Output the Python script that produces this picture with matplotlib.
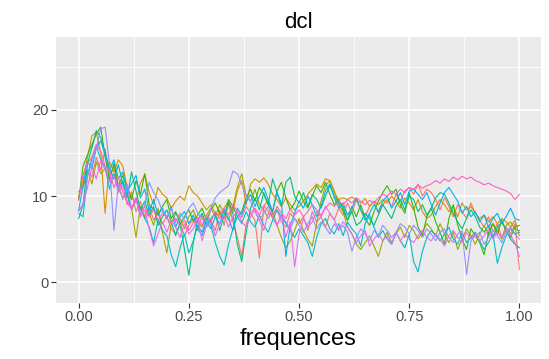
import numpy as np
import matplotlib
matplotlib.use("Agg")
import matplotlib.pyplot as plt

plt.rcParams['font.family'] = ['Liberation Sans', 'DejaVu Sans']

x_start, x_end, n_points = 0.0, 1.0, 101

pink = [9.5, 12.5, 13.8, 14.5, 16.0, 15.2, 13.5, 12.8, 11.0, 12.2,
        10.5, 9.2, 8.5, 9.6, 8.0, 8.8, 7.6, 8.4, 7.2, 8.0,
        7.5, 6.8, 7.4, 6.5, 7.2, 6.0, 6.9, 7.5, 6.6, 7.8,
        7.0, 8.2, 7.4, 8.6, 7.8, 9.0, 8.2, 7.5, 8.8, 8.0,
        8.6, 7.8, 8.9, 8.2, 7.6, 8.8, 8.0, 7.4, 8.5, 7.8,
        8.4, 7.6, 8.2, 9.0, 8.4, 7.8, 8.6, 9.2, 8.8, 9.4,
        9.0, 9.6, 9.2, 9.8, 9.4, 9.0, 9.5, 9.2, 9.8, 10.2,
        10.0, 10.6, 10.2, 10.8, 10.4, 11.0, 10.8, 11.3, 10.9, 11.2,
        11.4, 11.8, 11.5, 12.0, 11.7, 12.2, 11.9, 12.3, 12.0, 12.2,
        11.8, 11.6, 11.3, 11.5, 11.2, 11.0, 10.8, 10.6, 10.3, 9.6,
        10.2]

red = [10.0, 11.5, 13.0, 12.2, 14.5, 13.0, 15.5, 12.0, 13.5, 10.5,
       11.8, 9.0, 10.5, 8.2, 9.4, 7.6, 8.8, 7.2, 8.0, 6.8,
       7.6, 6.2, 5.6, 6.8, 5.4, 6.6, 7.4, 6.0, 7.8, 6.4,
       7.2, 6.0, 8.4, 6.6, 9.2, 7.0, 5.2, 3.0, 6.8, 8.0,
       7.2, 2.8, 8.8, 9.6, 7.8, 8.4, 7.0, 6.4, 8.0, 7.4,
       6.8, 7.6, 6.0, 8.2, 7.0, 7.6, 6.4, 8.0, 7.2, 8.6,
       7.8, 9.2, 8.0, 9.6, 8.4, 7.6, 8.8, 9.4, 8.0, 9.0,
       9.6, 8.8, 10.2, 9.4, 10.6, 11.0, 10.2, 11.4, 10.0, 10.8,
       10.4, 9.6, 8.4, 9.8, 8.8, 7.6, 9.0, 8.2, 7.4, 9.2,
       8.0, 7.2, 6.4, 7.6, 5.8, 6.8, 5.2, 6.4, 5.6, 6.8,
       1.5]

orange = [9.8, 12.0, 14.5, 17.0, 17.4, 15.0, 8.0, 14.0, 12.8, 14.2,
          13.5, 11.0, 10.0, 9.2, 11.5, 12.5, 10.4, 9.0, 11.0, 10.2,
          9.8, 8.6, 9.4, 10.0, 9.5, 11.2, 10.4, 10.0, 9.2, 8.4,
          9.0, 8.0, 7.8, 8.6, 9.4, 8.2, 10.6, 11.8, 9.0, 11.4,
          12.0, 11.6, 12.1, 11.4, 10.2, 9.6, 8.8, 9.8, 9.0, 8.4,
          8.8, 9.4, 10.2, 10.8, 11.4, 11.0, 12.0, 11.8, 10.4, 9.6,
          9.8, 9.6, 9.9, 9.5, 9.2, 9.7, 8.8, 9.4, 9.0, 9.6,
          9.2, 10.0, 9.4, 8.6, 9.8, 9.2, 8.4, 9.6, 8.2, 7.4,
          7.8, 8.8, 9.6, 9.0, 8.2, 8.8, 7.6, 9.2, 8.4, 8.8,
          8.0, 7.4, 7.8, 7.0, 7.6, 6.8, 7.4, 7.0, 6.4, 7.2,
          5.4]

olive = [10.5, 11.0, 13.0, 11.4, 14.0, 12.6, 13.2, 11.8, 12.4, 11.0,
         9.8, 10.4, 8.6, 5.2, 8.8, 7.4, 8.0, 6.6, 8.6, 5.8,
         3.4, 6.8, 8.0, 7.4, 6.2, 7.6, 8.4, 7.0, 6.4, 7.8,
         8.6, 7.6, 9.0, 8.0, 7.2, 8.8, 11.0, 12.6, 10.0, 9.4,
         10.8, 9.0, 8.4, 7.4, 8.2, 6.6, 5.2, 4.0, 4.8, 6.0,
         7.4, 6.0, 5.0, 4.2, 6.8, 9.4, 11.2, 11.8, 10.6, 9.0,
         8.2, 6.4, 5.6, 4.4, 3.8, 4.6, 5.4, 4.2, 3.0, 4.8,
         5.8, 4.6, 5.6, 6.4, 5.2, 6.6, 6.0, 5.0, 5.8, 6.8,
         6.2, 5.4, 6.8, 5.6, 4.6, 5.8, 3.8, 5.0, 6.2, 5.4,
         4.4, 5.6, 6.6, 5.4, 6.8, 6.0, 5.0, 6.6, 7.0, 6.2,
         6.0]

green = [9.6, 13.5, 14.8, 16.0, 17.2, 18.0, 14.5, 12.0, 13.8, 11.2,
         12.4, 10.8, 9.6, 11.8, 10.2, 12.6, 9.0, 8.4, 7.8, 8.8,
         9.6, 7.4, 8.2, 6.8, 7.6, 8.4, 7.0, 7.8, 8.6, 7.2,
         8.4, 9.2, 8.0, 7.4, 9.6, 8.8, 7.6, 8.2, 9.8, 10.8,
         9.4, 11.0, 10.2, 9.0, 8.2, 10.6, 11.6, 9.8, 8.4, 9.2,
         10.6, 9.4, 8.6, 10.0, 11.2, 10.4, 11.6, 10.2, 9.0, 9.6,
         8.4, 7.2, 8.8, 7.6, 9.0, 7.4, 6.6, 8.2, 9.4, 10.4,
         11.2, 10.2, 10.8, 9.0, 8.0, 10.4, 8.6, 6.4, 5.4, 7.6,
         8.6, 7.0, 5.8, 4.4, 7.4, 9.0, 6.6, 5.0, 3.8, 6.2,
         5.4, 4.6, 3.2, 5.8, 6.8, 5.6, 7.2, 6.0, 5.2, 6.4,
         6.6]

teal = [7.4, 9.0, 13.8, 15.6, 17.6, 16.8, 15.0, 13.2, 12.0, 13.6,
        11.4, 9.8, 12.8, 10.6, 8.4, 9.4, 7.8, 8.8, 6.6, 7.6,
        8.4, 7.0, 5.4, 6.8, 3.8, 0.8, 4.6, 7.2, 8.0, 6.6,
        7.4, 8.0, 6.0, 7.8, 9.2, 8.0, 4.4, 2.4, 5.8, 8.6,
        9.8, 8.4, 10.4, 9.0, 12.0, 10.4, 8.8, 11.6, 12.2, 10.0,
        9.2, 10.4, 8.8, 10.2, 9.6, 8.6, 10.0, 11.2, 10.0, 9.2,
        8.8, 7.2, 8.2, 6.6, 7.0, 8.0, 7.4, 6.6, 7.8, 9.0,
        8.2, 7.4, 8.8, 9.6, 8.4, 10.0, 9.6, 8.2, 9.0, 7.8,
        8.6, 9.8, 10.4, 10.2, 9.2, 8.0, 7.0, 6.2, 7.4, 8.4,
        7.6, 6.4, 5.8, 6.6, 5.2, 6.4, 7.0, 6.0, 5.0, 4.4,
        4.0]

cyan = [8.0, 7.6, 12.4, 14.4, 15.8, 14.2, 13.4, 10.8, 12.6, 11.0,
        11.8, 10.2, 8.4, 9.8, 8.6, 7.4, 6.4, 4.6, 7.2, 6.0,
        5.4, 3.2, 1.8, 4.0, 5.6, 3.4, 4.8, 6.6, 5.8, 7.4,
        6.6, 4.6, 3.0, 2.0, 4.4, 6.2, 7.6, 6.8, 8.2, 7.0,
        6.4, 7.8, 6.6, 5.8, 7.2, 8.4, 7.6, 6.8, 6.0, 5.2,
        6.2, 5.4, 4.6, 3.0, 5.2, 6.8, 7.4, 6.2, 5.6, 6.8,
        5.4, 7.0, 6.2, 5.6, 4.2, 6.8, 7.8, 6.4, 5.2, 6.0,
        5.0, 4.4, 5.8, 4.8, 4.0, 5.6, 2.4, 1.2, 3.6, 5.2,
        6.0, 5.4, 4.8, 5.6, 6.4, 5.0, 4.4, 5.8, 4.6, 5.2,
        5.8, 4.8, 3.8, 4.6, 5.6, 2.2, 4.0, 5.4, 6.2, 5.6,
        5.8]

blue = [8.4, 11.2, 14.0, 13.2, 15.6, 16.4, 14.8, 13.0, 14.2, 12.0,
        12.8, 10.6, 11.4, 12.4, 9.8, 10.8, 8.2, 9.6, 7.8, 8.6,
        7.4, 8.8, 6.4, 7.6, 8.2, 6.8, 7.8, 6.2, 5.4, 7.0,
        6.2, 7.6, 6.8, 8.4, 7.4, 6.0, 8.6, 7.8, 9.4, 10.2,
        8.8, 10.0, 11.0, 9.6, 8.2, 10.4, 9.2, 3.0, 6.6, 8.0,
        9.4, 8.6, 10.0, 9.0, 7.6, 8.8, 10.6, 11.4, 9.8, 8.6,
        9.2, 7.8, 8.6, 9.8, 8.4, 7.2, 8.0, 9.0, 8.2, 9.4,
        10.0, 8.6, 9.4, 10.4, 9.0, 10.6, 10.8, 10.2, 9.6, 10.4,
        9.0, 7.8, 9.2, 10.4, 11.0, 10.2, 9.4, 8.0, 8.8, 7.6,
        8.2, 7.0, 7.8, 6.4, 7.4, 8.0, 6.8, 7.6, 8.6, 7.4,
        7.2]

purple = [8.4, 8.8, 12.4, 13.8, 15.6, 17.8, 18.0, 13.6, 6.0, 11.4,
          9.6, 11.4, 8.4, 9.8, 7.6, 9.0, 11.6, 10.4, 9.6, 8.2,
          7.6, 8.6, 7.0, 8.0, 7.4, 8.6, 9.2, 8.0, 7.4, 6.4,
          8.6, 9.8, 10.4, 10.8, 11.2, 12.9, 12.6, 11.4, 10.0, 9.4,
          8.2, 7.2, 8.0, 8.8, 7.4, 6.6, 7.8, 7.0, 6.2, 7.4,
          6.6, 5.8, 6.8, 7.6, 6.2, 7.0, 6.4, 5.6, 6.8, 6.0,
          6.6, 5.8, 3.6, 5.2, 6.2, 5.6, 4.8, 6.0, 5.4, 6.6,
          6.0, 5.2, 5.8, 6.8, 6.4, 5.6, 6.6, 6.0, 5.2, 6.2,
          5.6, 4.8, 5.8, 6.2, 5.2, 4.6, 5.6, 6.0, 0.9, 4.8,
          5.4, 5.8, 4.4, 5.2, 6.0, 5.4, 4.6, 5.8, 6.4, 5.6,
          5.0]

magenta = [8.2, 9.2, 11.0, 13.4, 12.0, 14.2, 13.0, 11.6, 12.4, 10.4,
           11.2, 9.4, 8.6, 9.8, 7.6, 8.4, 6.2, 4.2, 5.6, 7.0,
           5.8, 7.2, 6.4, 5.2, 6.8, 5.6, 6.2, 7.4, 4.8, 6.6,
           7.0, 5.4, 6.8, 7.8, 6.4, 7.6, 8.2, 7.0, 6.4, 7.6,
           8.4, 7.2, 6.0, 8.0, 7.6, 6.6, 7.8, 5.2, 7.0, 1.8,
           5.6, 7.4, 6.4, 7.0, 8.2, 7.6, 8.8, 8.0, 7.2, 6.2,
           7.0, 6.4, 5.6, 4.6, 5.4, 6.0, 4.2, 5.0, 5.6, 4.8,
           5.4, 4.4, 5.8, 4.8, 5.6, 5.0, 4.6, 5.4, 6.0, 5.2,
           4.8, 5.6, 5.0, 4.2, 5.4, 6.0, 5.2, 4.6, 5.8, 5.0,
           5.6, 4.8, 5.4, 6.2, 5.0, 5.8, 5.2, 6.0, 5.4, 4.6,
           3.0]

series = [red, orange, olive, green, teal, cyan, blue, purple, magenta, pink]
colors = ["#F8766D", "#D89000", "#A3A500", "#39B600", "#00BF7D",
          "#00BFC4", "#00B0F6", "#9590FF", "#E76BF3", "#FF62BC"]

x_ticks = [0.0, 0.25, 0.5, 0.75, 1.0]
x_tick_labels = ["0.00", "0.25", "0.50", "0.75", "1.00"]
y_ticks = [0, 10, 20]
y_tick_labels = ["0", "10", "20"]
title = "dcl"
xlabel = "frequences"

freq = np.linspace(x_start, x_end, n_points)

fig = plt.figure(figsize=(5.49, 3.59), dpi=100)
ax = fig.add_axes([0.102, 0.157, 0.8834, 0.7408])
ax.set_facecolor("#EBEBEB")

for minor in [0.125, 0.375, 0.625, 0.875]:
    ax.axvline(minor, color="white", lw=0.6, zorder=0.5)
for minor in [5, 15, 25]:
    ax.axhline(minor, color="white", lw=0.6, zorder=0.5)
for t in x_ticks:
    ax.axvline(t, color="white", lw=1.2, zorder=0.6)
for t in y_ticks:
    ax.axhline(t, color="white", lw=1.2, zorder=0.6)

for s, c in zip(series, colors):
    ax.plot(freq, s, color=c, lw=0.8, zorder=2)

ax.set_xlim(-0.0515, 1.049)
ax.set_ylim(-2.37, 28.5)
ax.set_xticks(x_ticks)
ax.set_xticklabels(x_tick_labels)
ax.set_yticks(y_ticks)
ax.set_yticklabels(y_tick_labels)
ax.tick_params(axis="both", colors="#333333", labelcolor="#4D4D4D",
               labelsize=10.5, length=3.5, width=0.8, pad=2)
for sp in ax.spines.values():
    sp.set_visible(False)

ax.set_title(title, fontsize=16, pad=6)
ax.set_xlabel(xlabel, fontsize=17, labelpad=3)

fig.savefig("out.png", dpi=100)
